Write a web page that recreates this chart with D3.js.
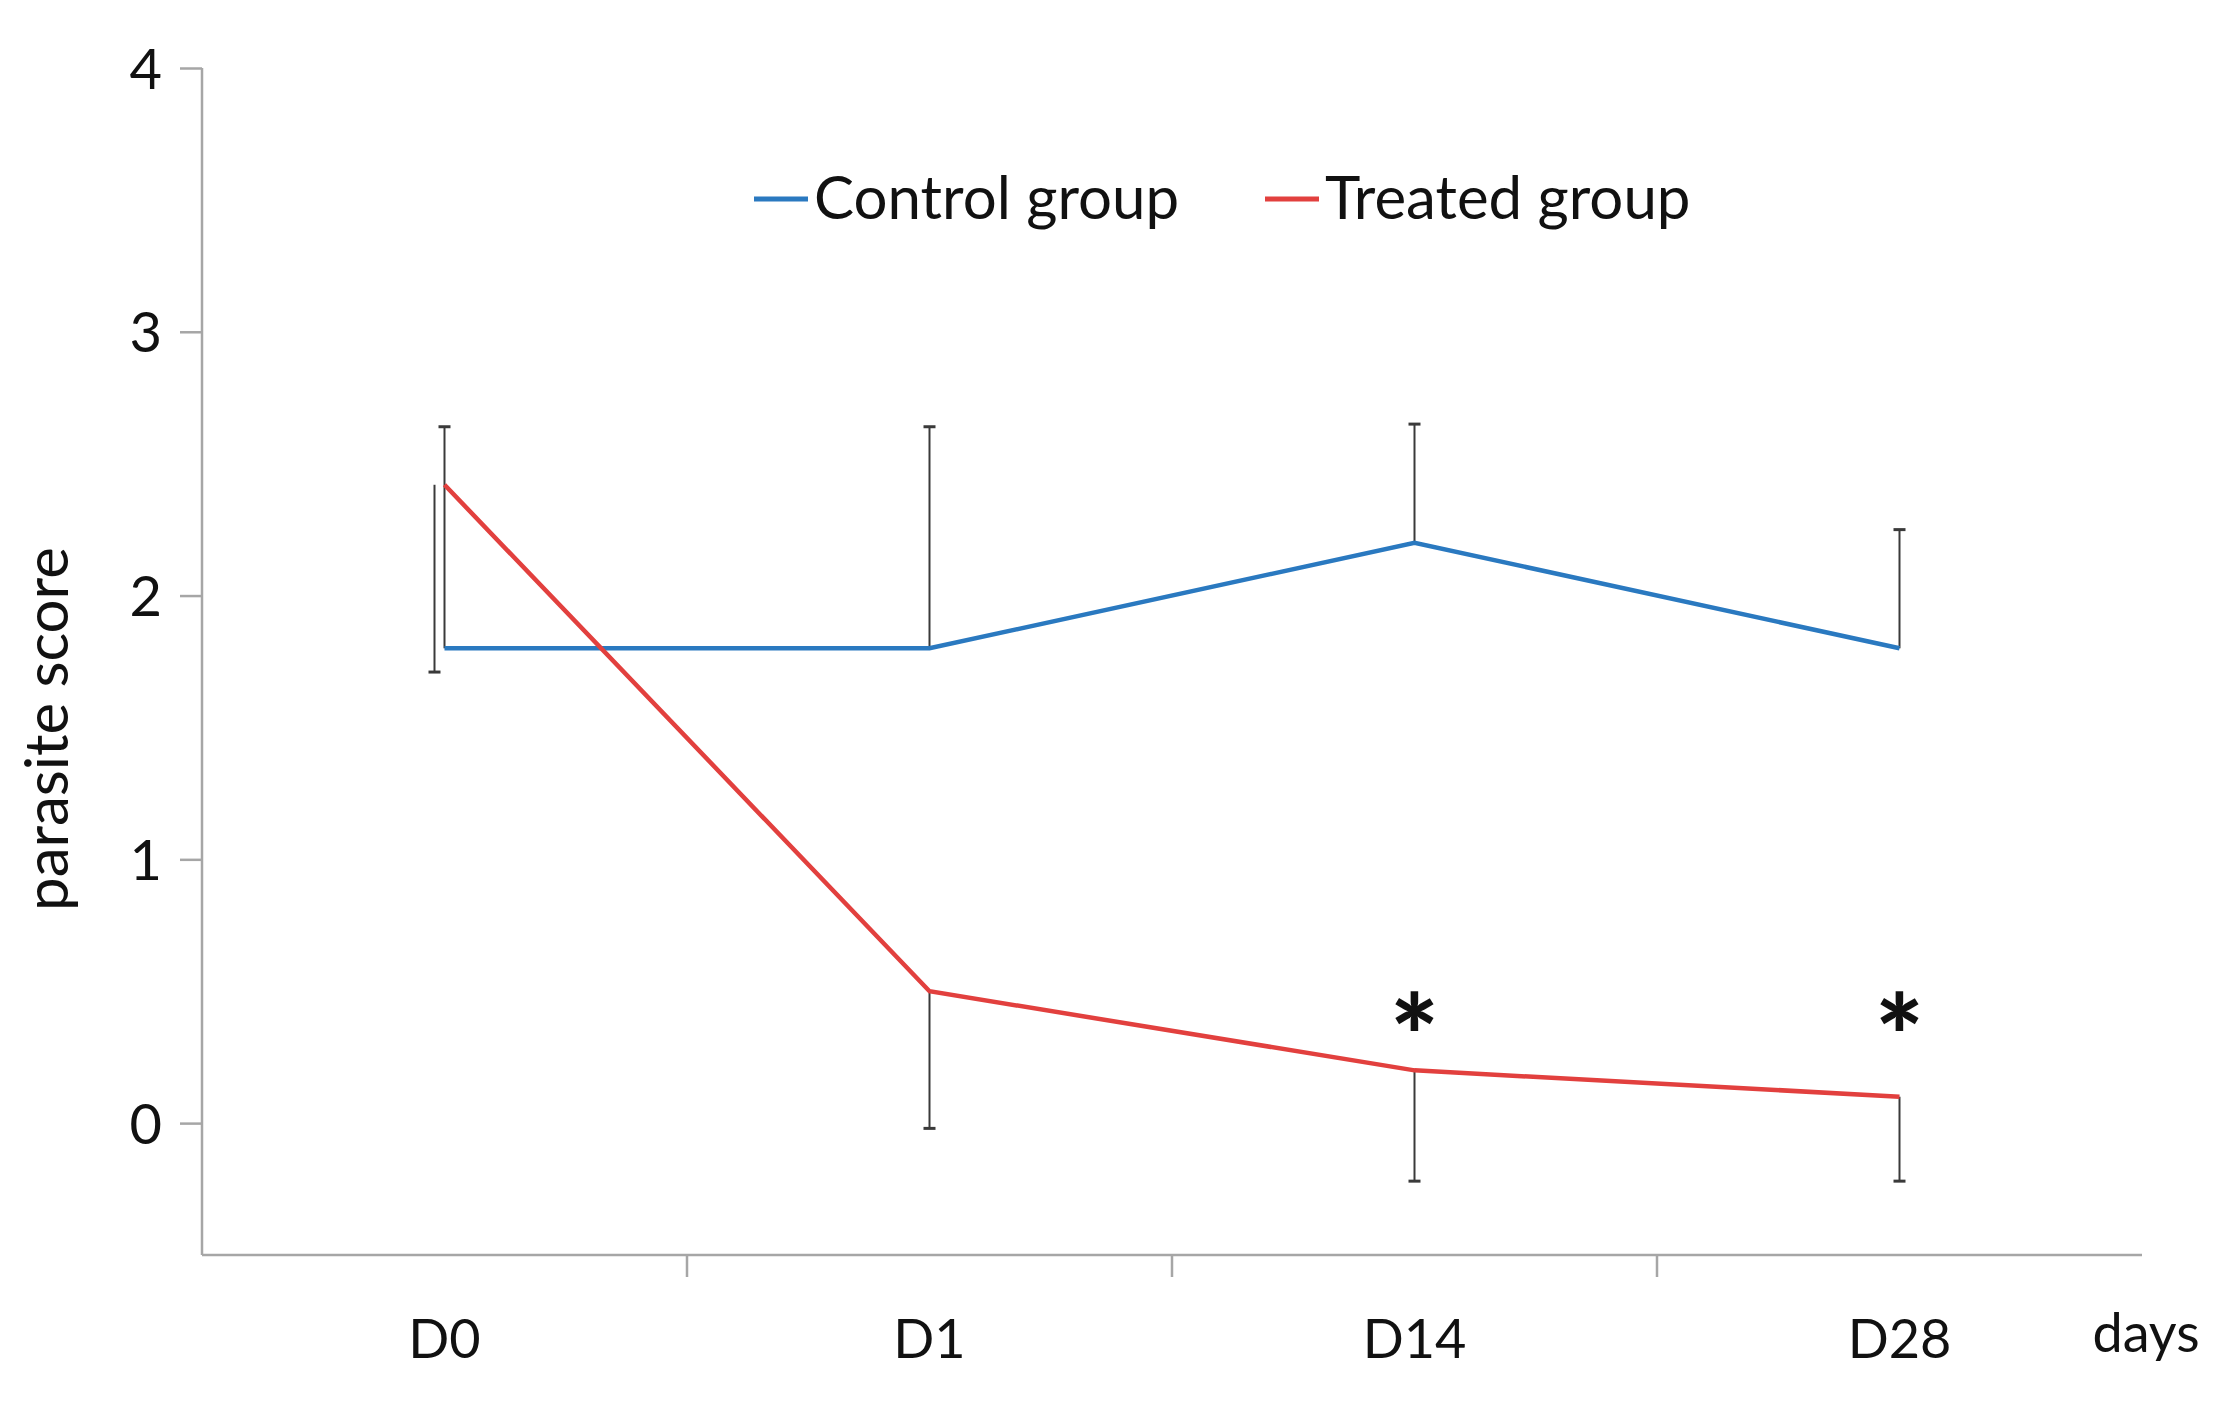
<!DOCTYPE html>
<html><head><meta charset="utf-8">
<script src="https://cdn.jsdelivr.net/npm/d3@7"></script>
<style>
html,body{margin:0;padding:0;background:#fff;}
text{font-family:Lato,"Open Sans",sans-serif;fill:#111;}
</style></head>
<body><svg id="c" width="2230" height="1406"></svg>
<script>
const categories = ["D0","D1","D14","D28"];
const controlMean = [1.8, 1.8, 2.2, 1.8];
const controlUpper = [2.64, 2.64, 2.65, 2.25];
const treatedMean = [2.42, 0.5, 0.2, 0.1];
const treatedLower = [1.71, -0.02, -0.22, -0.22];
const significance = ["", "", "*", "*"];
const yTicks = [0,1,2,3,4];
const seriesNames = ["Control group","Treated group"];
const colors = {control:"#2a79c0", treated:"#e2403e"};

const svg = d3.select("#c");
const L = 202, R = 2142, T = 68, B = 1255;
const x = d3.scaleBand().domain(categories).range([L, R]).padding(0);
const y = d3.scaleLinear().domain([-0.5, 4]).range([B, T]);
const cx = c => x(c) + x.bandwidth()/2;

// axes
const axisCol = "#a6a6a6";
svg.append("line").attr("x1",L).attr("x2",L).attr("y1",T).attr("y2",B)
  .attr("stroke",axisCol).attr("stroke-width",2.5);
svg.append("line").attr("x1",L).attr("x2",R).attr("y1",B).attr("y2",B)
  .attr("stroke",axisCol).attr("stroke-width",2.5);
const yAxis = d3.axisLeft(y).tickValues(yTicks).tickSize(22).tickPadding(18).tickFormat(d3.format("d"));
const gy = svg.append("g").attr("transform",`translate(${L},0)`).call(yAxis);
gy.select(".domain").remove();
gy.selectAll(".tick line").attr("stroke",axisCol).attr("stroke-width",2.5);
gy.selectAll(".tick text").style("font-size","56px").attr("fill","#111").attr("dy","0.36em");

// x ticks at band boundaries
const bounds = categories.slice(1).map(c => x(c));
svg.selectAll(".xt").data(bounds).enter().append("line")
  .attr("x1",d=>d).attr("x2",d=>d).attr("y1",B).attr("y2",B+22)
  .attr("stroke",axisCol).attr("stroke-width",2.5);
svg.selectAll(".xl").data(categories).enter().append("text")
  .attr("x",d=>cx(d)).attr("y",B+103).attr("text-anchor","middle")
  .style("font-size","54px").text(d=>d);
svg.append("text").attr("x",2146).attr("y",1352).attr("text-anchor","middle")
  .style("font-size","54px").text("days");

// y title
svg.append("text").attr("transform","translate(68,729) rotate(-90)")
  .attr("text-anchor","middle").style("font-size","60px").text("parasite score");

// error bars
const ebCol = "#3a3a3a";
function errBar(xp, y1, y2){
  svg.append("line").attr("x1",xp).attr("x2",xp).attr("y1",y(y1)).attr("y2",y(y2))
    .attr("stroke",ebCol).attr("stroke-width",2);
  svg.append("line").attr("x1",xp-6).attr("x2",xp+6).attr("y1",y(y2)).attr("y2",y(y2))
    .attr("stroke",ebCol).attr("stroke-width",3);
}
categories.forEach((c,i)=>{
  errBar(cx(c), controlMean[i], controlUpper[i]);
  errBar(cx(c) + (i===0 ? -10 : 0), treatedMean[i], treatedLower[i]);
});

// lines
const line = d3.line().x((d,i)=>cx(categories[i])).y(d=>y(d));
svg.append("path").datum(controlMean).attr("d",line).attr("fill","none")
  .attr("stroke",colors.control).attr("stroke-width",4.5).attr("stroke-linejoin","miter");
svg.append("path").datum(treatedMean).attr("d",line).attr("fill","none")
  .attr("stroke",colors.treated).attr("stroke-width",4.5).attr("stroke-linejoin","miter");

// significance
svg.selectAll(".sig").data(categories).enter().append("text")
  .attr("x",d=>cx(d)).attr("y",1078).attr("text-anchor","middle")
  .style("font-size","115px").style("font-weight","900")
  .text((d,i)=>significance[i]);

// legend
const legX = [754, 1265];
seriesNames.forEach((n,i)=>{
  const col = i===0 ? colors.control : colors.treated;
  svg.append("line").attr("x1",legX[i]).attr("x2",legX[i]+54).attr("y1",199).attr("y2",199)
    .attr("stroke",col).attr("stroke-width",5);
  svg.append("text").attr("x",legX[i]+60).attr("y",219).style("font-size","60px").text(n);
});
</script></body></html>
